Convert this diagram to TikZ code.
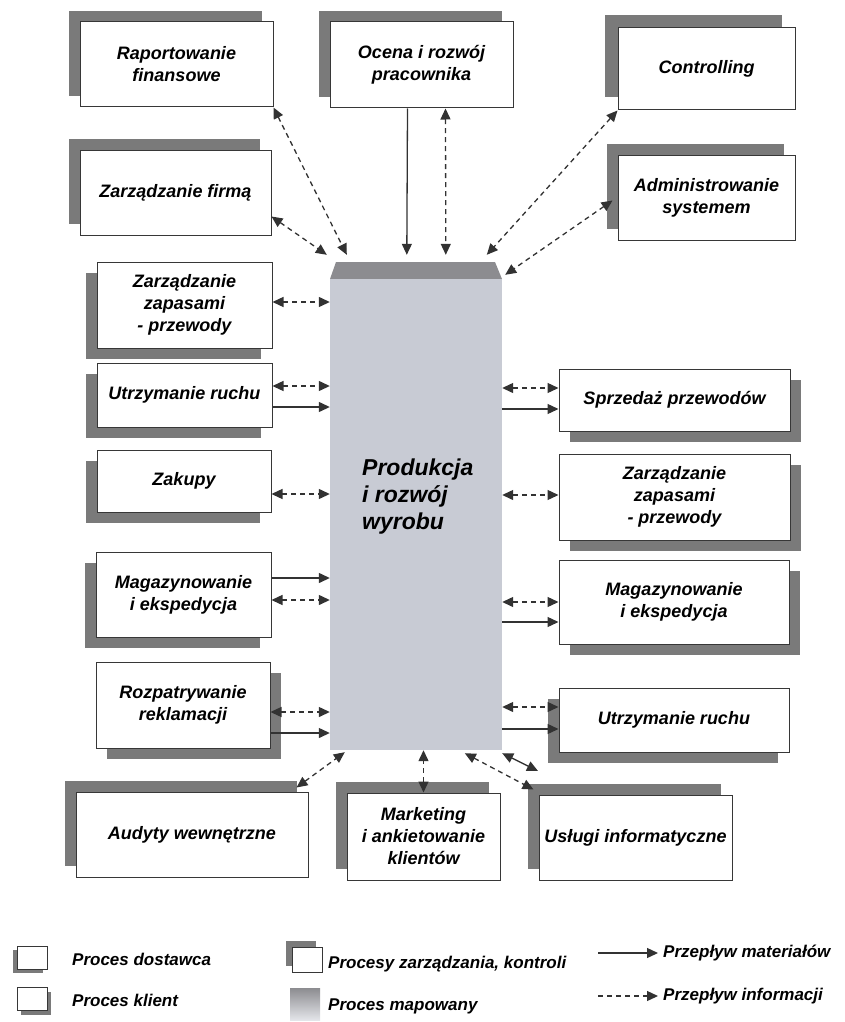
\documentclass[tikz,border=0pt]{standalone}
\usepackage{fontspec}
\setmainfont{Liberation Sans}
\usetikzlibrary{arrows.meta,shadows}
\definecolor{cien}{RGB}{122,122,122}
\definecolor{ramka}{RGB}{55,55,55}
\definecolor{mapa}{RGB}{200,203,212}
\definecolor{mapagora}{RGB}{140,140,144}
\definecolor{strzalka}{RGB}{50,50,50}
\begin{document}
\begin{tikzpicture}[x=1pt,y=-1pt,
	>={Triangle[length=11pt,width=10pt]},
	box/.style={draw=ramka, line width=1pt, fill=white, inner sep=0pt, align=center,
		font=\bfseries\itshape\fontsize{18}{22}\selectfont},
	zarzad/.style={box, general shadow={fill=cien, shadow xshift=-#1, shadow yshift=#1}},
	zarzad/.default=11pt,
	dostawca/.style={box, general shadow={fill=cien, shadow xshift=-#1, shadow yshift=-#1}},
	dostawca/.default=11pt,
	klient/.style={box, general shadow={fill=cien, shadow xshift=#1, shadow yshift=-#1}},
	klient/.default=11pt,
	mat/.style={->, draw=strzalka, line width=1.3pt},
	info/.style={<->, draw=strzalka, line width=1.3pt, dash pattern=on 5pt off 4pt},
	legtext/.style={anchor=west, inner sep=0pt, font=\bfseries\itshape\fontsize{17}{20}\selectfont}]
\useasboundingbox (0,0) rectangle (845,1022);

\node[zarzad, minimum width=193pt, minimum height=85pt] (rap) at (176.5,64.5) {Raportowanie\\finansowe};
\node[zarzad, minimum width=183pt, minimum height=86pt] (oce) at (421.5,65) {Ocena i rozwój\\pracownika};
\node[zarzad=13pt, minimum width=177pt, minimum height=82pt] (con) at (706.5,69) {Controlling};
\node[zarzad, minimum width=191pt, minimum height=85pt] (zfi) at (175.5,192.5) {Zarządzanie firmą};
\node[zarzad, minimum width=177pt, minimum height=85pt] (adm) at (706.5,197.5) {Administrowanie\\systemem};

\node[dostawca, minimum width=175pt, minimum height=86pt] (zzl) at (184.5,305) {Zarządzanie\\zapasami\\- przewody};
\node[dostawca, minimum width=175pt, minimum height=64pt] (url) at (184.5,395) {Utrzymanie ruchu};
\node[dostawca, minimum width=174pt, minimum height=62pt] (zak) at (184,481) {Zakupy};
\node[dostawca, minimum width=175pt, minimum height=85pt] (mgl) at (183.5,594.5) {Magazynowanie\\i ekspedycja};
\node[klient, minimum width=174pt, minimum height=86pt] (rek) at (183,705) {Rozpatrywanie\\reklamacji};

\node[klient, minimum width=231pt, minimum height=62pt] (spr) at (674.5,400) {Sprzedaż przewodów};
\node[klient, minimum width=231pt, minimum height=86pt] (zzr) at (674.5,497) {Zarządzanie\\zapasami\\- przewody};
\node[klient, minimum width=230pt, minimum height=84pt] (mgr) at (674,602) {Magazynowanie\\i ekspedycja};
\node[dostawca, minimum width=230pt, minimum height=64pt] (urr) at (674,720) {Utrzymanie ruchu};

\node[zarzad, minimum width=232pt, minimum height=85pt] (aud) at (192,834.5) {Audyty wewnętrzne};
\node[zarzad, minimum width=153pt, minimum height=87pt] (mar) at (423.5,836.5) {Marketing\\i ankietowanie\\klientów};
\node[zarzad, minimum width=193pt, minimum height=85pt] (usl) at (635.5,837.5) {Usługi informatyczne};

\fill[mapagora] (336,262) -- (495,262) -- (502,279) -- (330,279) -- cycle;
\node[fill=mapa, minimum width=172pt, minimum height=471pt, inner sep=0pt] (prod) at (416,514.5) {};
\node[anchor=west, align=left, inner sep=0pt, font=\bfseries\itshape\fontsize{23}{27}\selectfont] (prodtxt) at (362,497) {Produkcja\\i rozwój\\wyrobu};

\draw[info] (rap.south east) -- ([xshift=17pt,yshift=24pt]prod.north west);
\draw[info] ([yshift=-24pt]zfi.east) -- ([xshift=-3pt,yshift=24pt]prod.north west);
\draw[mat] ([xshift=-14pt]oce.south) -- ([xshift=77pt,yshift=24pt]prod.north west);
\draw[info] ([xshift=24pt]oce.south) -- ([xshift=116pt,yshift=24pt]prod.north west);
\draw[info] (con.south west) -- ([xshift=157pt,yshift=24pt]prod.north west);
\draw[info] ([xshift=-5pt,yshift=-3pt]adm.west) -- ([xshift=3pt,yshift=4pt]prod.north east);

\foreach \b/\y in {zzl/302, url/386, zak/494, mgl/600, rek/712}
	\draw[info] (\b.east |- 0,\y) -- (prod.west |- 0,\y);
\foreach \b/\y in {url/407, mgl/578, rek/733}
	\draw[mat] (\b.east |- 0,\y) -- (prod.west |- 0,\y);
\foreach \b/\y in {spr/388, zzr/495, mgr/602, urr/707}
	\draw[info] (prod.east |- 0,\y) -- (\b.west |- 0,\y);
\foreach \b/\y in {spr/409, mgr/622, urr/729}
	\draw[mat] (prod.east |- 0,\y) -- (\b.west |- 0,\y);

\draw[info] ([xshift=-12pt,yshift=4pt]aud.north east) -- ([xshift=15pt,yshift=-2pt]prod.south west);
\draw[info] (mar.north) -- (prod.south -| mar.north);
\draw[info] ([xshift=135pt,yshift=-3pt]prod.south west) -- ([xshift=-5pt,yshift=5pt]usl.north west);
\coordinate (itkoniec) at (538,771);
\draw[mat, <->] ([yshift=-3pt]prod.south east) -- (itkoniec);

\node[dostawca=4pt, minimum width=30pt, minimum height=23pt] (ldost) at (32,957.5) {};
\node[legtext] (ldosttxt) at (72,959) {Proces dostawca};
\node[klient=4pt, minimum width=30pt, minimum height=23pt] (lkl) at (32,999) {};
\node[legtext] (lkltxt) at (72,1000) {Proces klient};
\node[zarzad=6pt, minimum width=30pt, minimum height=25pt] (lzarz) at (307,959.5) {};
\node[legtext] (lzarztxt) at (328,964) {Procesy zarządzania, kontroli};
\node[minimum width=30pt, minimum height=32pt, inner sep=0pt, top color=mapagora, bottom color=mapa!50] (lmap) at (305,1004) {};
\node[legtext] (lmaptxt) at (328,1006) {Proces mapowany};
\coordinate (lmatpocz) at (598,953);
\node[legtext] (lmattxt) at (663,953) {Przepływ materiałów};
\draw[mat] (lmatpocz) -- ([xshift=-5pt]lmattxt.west);
\coordinate (linfpocz) at (598,996);
\node[legtext] (linftxt) at (663,996) {Przepływ informacji};
\draw[info, ->] (linfpocz) -- ([xshift=-5pt]linftxt.west);
\end{tikzpicture}
\end{document}
